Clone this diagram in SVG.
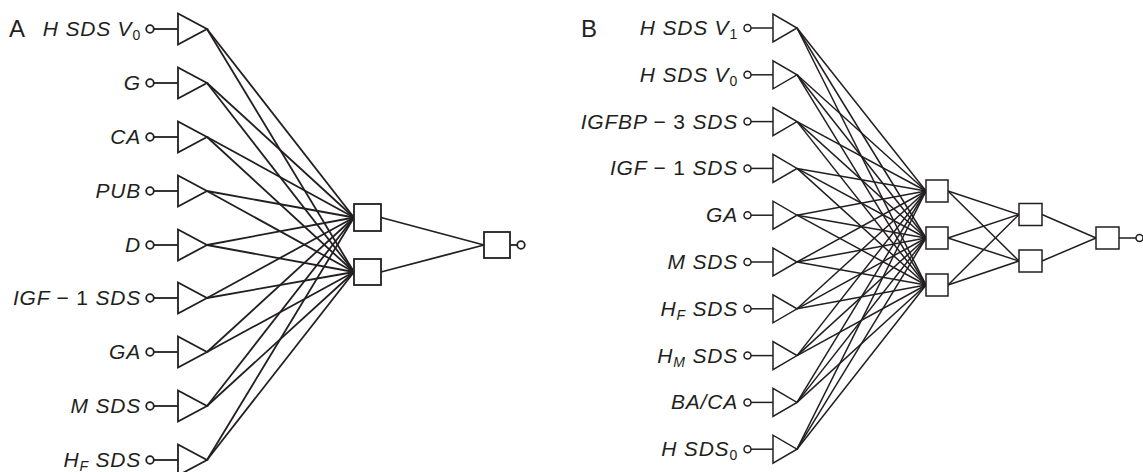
<svg xmlns="http://www.w3.org/2000/svg" width="1143" height="472" viewBox="0 0 1143 472">
<style>
.a line,.a polygon,.a rect,.a circle{stroke:#231f20;stroke-width:1.8;fill:none}
.b line,.b polygon,.b rect,.b circle{stroke:#231f20;stroke-width:1.5;fill:none}
.a polygon,.a rect,.b polygon,.b rect,.a circle,.b circle{fill:#fff}
.lbl{font-family:"Liberation Sans",Arial,sans-serif;font-size:21px;font-style:italic;fill:#231f20;text-anchor:end;letter-spacing:0.8px}
.up{font-style:normal}
.panel{font-family:"Liberation Sans",Arial,sans-serif;font-size:24px;fill:#231f20}
.sub{font-size:14px}
</style>
<rect width="1143" height="472" fill="#fff"/>
<text class="panel" x="9" y="37">A</text>
<text class="panel" x="581" y="37">B</text>

<g class="a" id="connectors-A">
<line x1="207" y1="29" x2="354" y2="217.5"/><line x1="207" y1="29" x2="354" y2="272"/>
<line x1="207" y1="83" x2="354" y2="217.5"/><line x1="207" y1="83" x2="354" y2="272"/>
<line x1="207" y1="137" x2="354" y2="217.5"/><line x1="207" y1="137" x2="354" y2="272"/>
<line x1="207" y1="191" x2="354" y2="217.5"/><line x1="207" y1="191" x2="354" y2="272"/>
<line x1="207" y1="245" x2="354" y2="217.5"/><line x1="207" y1="245" x2="354" y2="272"/>
<line x1="207" y1="298" x2="354" y2="217.5"/><line x1="207" y1="298" x2="354" y2="272"/>
<line x1="207" y1="352" x2="354" y2="217.5"/><line x1="207" y1="352" x2="354" y2="272"/>
<line x1="207" y1="406" x2="354" y2="217.5"/><line x1="207" y1="406" x2="354" y2="272"/>
<line x1="207" y1="460" x2="354" y2="217.5"/><line x1="207" y1="460" x2="354" y2="272"/>
<line x1="381" y1="217.5" x2="484" y2="245"/><line x1="381" y1="272" x2="484" y2="245"/>
</g>

<g class="a" id="A-in1"><line x1="154" y1="29" x2="178" y2="29"/><circle cx="150" cy="29" r="3.8"/><polygon points="178,13.5 178,44.5 207,29"/><text class="lbl" x="141" y="36">H SDS V<tspan class="up sub" dy="4">0</tspan></text></g>
<g class="a" id="A-in2"><line x1="154" y1="83" x2="178" y2="83"/><circle cx="150" cy="83" r="3.8"/><polygon points="178,67.5 178,98.5 207,83"/><text class="lbl" x="141" y="90">G</text></g>
<g class="a" id="A-in3"><line x1="154" y1="137" x2="178" y2="137"/><circle cx="150" cy="137" r="3.8"/><polygon points="178,121.5 178,152.5 207,137"/><text class="lbl" x="141" y="144">CA</text></g>
<g class="a" id="A-in4"><line x1="154" y1="191" x2="178" y2="191"/><circle cx="150" cy="191" r="3.8"/><polygon points="178,175.5 178,206.5 207,191"/><text class="lbl" x="141" y="198">PUB</text></g>
<g class="a" id="A-in5"><line x1="154" y1="245" x2="178" y2="245"/><circle cx="150" cy="245" r="3.8"/><polygon points="178,229.5 178,260.5 207,245"/><text class="lbl" x="141" y="252">D</text></g>
<g class="a" id="A-in6"><line x1="154" y1="298" x2="178" y2="298"/><circle cx="150" cy="298" r="3.8"/><polygon points="178,282.5 178,313.5 207,298"/><text class="lbl" x="141" y="305">IGF <tspan class="up">− 1 </tspan>SDS</text></g>
<g class="a" id="A-in7"><line x1="154" y1="352" x2="178" y2="352"/><circle cx="150" cy="352" r="3.8"/><polygon points="178,336.5 178,367.5 207,352"/><text class="lbl" x="141" y="359">GA</text></g>
<g class="a" id="A-in8"><line x1="154" y1="406" x2="178" y2="406"/><circle cx="150" cy="406" r="3.8"/><polygon points="178,390.5 178,421.5 207,406"/><text class="lbl" x="141" y="413">M SDS</text></g>
<g class="a" id="A-in9"><line x1="154" y1="460" x2="178" y2="460"/><circle cx="150" cy="460" r="3.8"/><polygon points="178,444.5 178,475.5 207,460"/><text class="lbl" x="141" y="467">H<tspan class="sub" dy="4">F</tspan><tspan dy="-4"> SDS</tspan></text></g>
<g class="a" id="A-h1"><rect x="354" y="204" width="27" height="27"/></g>
<g class="a" id="A-h2"><rect x="354" y="259" width="27" height="26"/></g>
<g class="a" id="A-out"><line x1="510" y1="245" x2="517" y2="245"/><rect x="484" y="232" width="26" height="26"/><circle cx="521" cy="245" r="3.8"/></g>

<g class="b" id="connectors-B">
<line x1="797" y1="28" x2="926" y2="191"/><line x1="797" y1="28" x2="926" y2="238"/><line x1="797" y1="28" x2="926" y2="285"/>
<line x1="797" y1="74.8" x2="926" y2="191"/><line x1="797" y1="74.8" x2="926" y2="238"/><line x1="797" y1="74.8" x2="926" y2="285"/>
<line x1="797" y1="121.6" x2="926" y2="191"/><line x1="797" y1="121.6" x2="926" y2="238"/><line x1="797" y1="121.6" x2="926" y2="285"/>
<line x1="797" y1="168.4" x2="926" y2="191"/><line x1="797" y1="168.4" x2="926" y2="238"/><line x1="797" y1="168.4" x2="926" y2="285"/>
<line x1="797" y1="215.2" x2="926" y2="191"/><line x1="797" y1="215.2" x2="926" y2="238"/><line x1="797" y1="215.2" x2="926" y2="285"/>
<line x1="797" y1="262" x2="926" y2="191"/><line x1="797" y1="262" x2="926" y2="238"/><line x1="797" y1="262" x2="926" y2="285"/>
<line x1="797" y1="308.8" x2="926" y2="191"/><line x1="797" y1="308.8" x2="926" y2="238"/><line x1="797" y1="308.8" x2="926" y2="285"/>
<line x1="797" y1="355.6" x2="926" y2="191"/><line x1="797" y1="355.6" x2="926" y2="238"/><line x1="797" y1="355.6" x2="926" y2="285"/>
<line x1="797" y1="402.4" x2="926" y2="191"/><line x1="797" y1="402.4" x2="926" y2="238"/><line x1="797" y1="402.4" x2="926" y2="285"/>
<line x1="797" y1="449.2" x2="926" y2="191"/><line x1="797" y1="449.2" x2="926" y2="238"/><line x1="797" y1="449.2" x2="926" y2="285"/>
<line x1="948" y1="191" x2="1019" y2="214.5"/><line x1="948" y1="191" x2="1019" y2="261"/>
<line x1="948" y1="238" x2="1019" y2="214.5"/><line x1="948" y1="238" x2="1019" y2="261"/>
<line x1="948" y1="285" x2="1019" y2="214.5"/><line x1="948" y1="285" x2="1019" y2="261"/>
<line x1="1042" y1="214.5" x2="1096" y2="238"/><line x1="1042" y1="261" x2="1096" y2="238"/>
</g>

<g class="b" id="B-in1"><line x1="751" y1="28" x2="773" y2="28"/><circle cx="747.5" cy="28" r="3.5"/><polygon points="773,14 773,42 797,28"/><text class="lbl" x="738" y="35">H SDS V<tspan class="up sub" dy="4">1</tspan></text></g>
<g class="b" id="B-in2"><line x1="751" y1="74.8" x2="773" y2="74.8"/><circle cx="747.5" cy="74.8" r="3.5"/><polygon points="773,60.8 773,88.8 797,74.8"/><text class="lbl" x="738" y="81.8">H SDS V<tspan class="up sub" dy="4">0</tspan></text></g>
<g class="b" id="B-in3"><line x1="751" y1="121.6" x2="773" y2="121.6"/><circle cx="747.5" cy="121.6" r="3.5"/><polygon points="773,107.6 773,135.6 797,121.6"/><text class="lbl" x="738" y="128.6">IGFBP <tspan class="up">− 3 </tspan>SDS</text></g>
<g class="b" id="B-in4"><line x1="751" y1="168.4" x2="773" y2="168.4"/><circle cx="747.5" cy="168.4" r="3.5"/><polygon points="773,154.4 773,182.4 797,168.4"/><text class="lbl" x="738" y="175.4">IGF <tspan class="up">− 1 </tspan>SDS</text></g>
<g class="b" id="B-in5"><line x1="751" y1="215.2" x2="773" y2="215.2"/><circle cx="747.5" cy="215.2" r="3.5"/><polygon points="773,201.2 773,229.2 797,215.2"/><text class="lbl" x="738" y="222.2">GA</text></g>
<g class="b" id="B-in6"><line x1="751" y1="262" x2="773" y2="262"/><circle cx="747.5" cy="262" r="3.5"/><polygon points="773,248 773,276 797,262"/><text class="lbl" x="738" y="269">M SDS</text></g>
<g class="b" id="B-in7"><line x1="751" y1="308.8" x2="773" y2="308.8"/><circle cx="747.5" cy="308.8" r="3.5"/><polygon points="773,294.8 773,322.8 797,308.8"/><text class="lbl" x="738" y="315.8">H<tspan class="sub" dy="4">F</tspan><tspan dy="-4"> SDS</tspan></text></g>
<g class="b" id="B-in8"><line x1="751" y1="355.6" x2="773" y2="355.6"/><circle cx="747.5" cy="355.6" r="3.5"/><polygon points="773,341.6 773,369.6 797,355.6"/><text class="lbl" x="738" y="362.6">H<tspan class="sub" dy="4">M</tspan><tspan dy="-4"> SDS</tspan></text></g>
<g class="b" id="B-in9"><line x1="751" y1="402.4" x2="773" y2="402.4"/><circle cx="747.5" cy="402.4" r="3.5"/><polygon points="773,388.4 773,416.4 797,402.4"/><text class="lbl" x="738" y="409.4">BA/CA</text></g>
<g class="b" id="B-in10"><line x1="751" y1="449.2" x2="773" y2="449.2"/><circle cx="747.5" cy="449.2" r="3.5"/><polygon points="773,435.2 773,463.2 797,449.2"/><text class="lbl" x="738" y="456.2">H SDS<tspan class="up sub" dy="4">0</tspan></text></g>
<g class="b" id="B-h1"><rect x="926" y="180" width="22" height="22"/></g>
<g class="b" id="B-h2"><rect x="926" y="227" width="22" height="22"/></g>
<g class="b" id="B-h3"><rect x="926" y="274" width="22" height="22"/></g>
<g class="b" id="B-h4"><rect x="1019" y="203.5" width="23" height="22"/></g>
<g class="b" id="B-h5"><rect x="1019" y="250" width="23" height="22"/></g>
<g class="b" id="B-out"><line x1="1119" y1="238" x2="1136" y2="238"/><rect x="1096" y="227" width="23" height="22"/><circle cx="1139.5" cy="238" r="3.5"/></g>
</svg>
